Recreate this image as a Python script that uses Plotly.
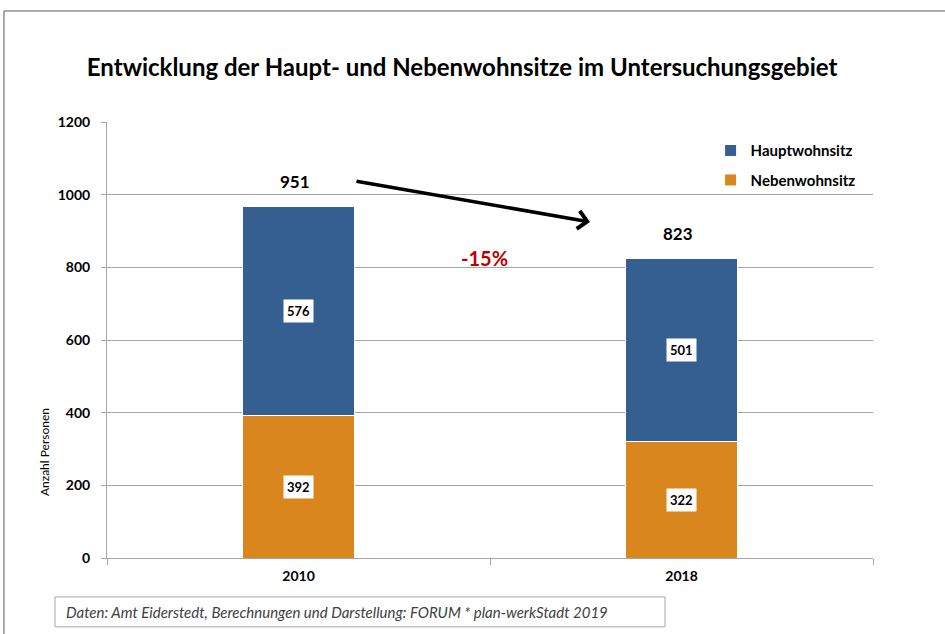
import plotly.graph_objects as go

years = ["2010", "2018"]
neben = [392, 322]
haupt = [576, 501]
totals = [951, 823]
change_label = "-15%"
title = "Entwicklung der Haupt- und Nebenwohnsitze im Untersuchungsgebiet"
source = "Daten: Amt Eiderstedt, Berechnungen und Darstellung: FORUM * plan-werkStadt 2019"

BLUE = "#365F91"
ORANGE = "#D9861E"
FONT = "Lato, 'Open Sans', sans-serif"

fig = go.Figure()
fig.add_trace(go.Bar(x=years, y=neben, name="<b>Nebenwohnsitz</b>", legendgroup="n", legendrank=2,
                     marker=dict(color=ORANGE, line=dict(color="white", width=1)), width=0.29,
                     hoverinfo="skip"))
fig.add_trace(go.Bar(x=years, y=haupt, name="<b>Hauptwohnsitz</b>", legendgroup="h", legendrank=1,
                     marker=dict(color=BLUE, line=dict(color="white", width=1)), width=0.29,
                     hoverinfo="skip"))

ann = []
for i, yr in enumerate(years):
    # category axis: annotation x uses the category's serial number
    ann.append(dict(x=i, y=neben[i] / 2, text=f"<b>{neben[i]}</b>", showarrow=False, bgcolor="white",
                    borderpad=3, font=dict(size=13, color="black", family=FONT)))
    ann.append(dict(x=i, y=neben[i] + haupt[i] / 2, text=f"<b>{haupt[i]}</b>", showarrow=False, bgcolor="white",
                    borderpad=3, font=dict(size=13, color="black", family=FONT)))
    ann.append(dict(x=i, y=neben[i] + haupt[i], text=f"<b>{totals[i]}</b>", showarrow=False, yshift=25, xshift=-4,
                    font=dict(size=17, color="black", family=FONT)))

# arrow (head position in paper/data, tail offset in pixels)
ann.append(dict(xref="paper", yref="y", x=0.6305, y=925, ax=-235, ay=-41, axref="pixel", ayref="pixel",
                text="", showarrow=True, arrowhead=4, arrowsize=1.0, arrowwidth=3.5, arrowcolor="black"))
ann.append(dict(xref="paper", yref="y", x=0.493, y=826, text=f"<b>{change_label}</b>", showarrow=False,
                font=dict(size=20, color="#C00000", family=FONT)))
ann.append(dict(xref="paper", yref="paper", x=-0.0822, y=0.243, xanchor="center", yanchor="middle",
                text="Anzahl Personen", textangle=-90,
                showarrow=False, font=dict(size=12, color="black", family=FONT)))
ann.append(dict(xref="paper", yref="paper", x=-0.056, y=-0.124, xanchor="left", yanchor="middle",
                text=f"<i>{source}</i>", showarrow=False, font=dict(size=15, color="#404040", family=FONT)))

shapes = [
    dict(type="rect", xref="paper", yref="paper", x0=-0.1345, x1=1.5, y0=1.2546, y1=-1.0,
         line=dict(color="#595959", width=1), fillcolor="rgba(0,0,0,0)", layer="below"),
    dict(type="rect", xref="paper", yref="paper", x0=-0.0679, x1=0.7285, y0=-0.0894, y1=-0.158,
         line=dict(color="#A6A6A6", width=1), fillcolor="white"),
]

fig.update_layout(
    width=945, height=634,
    margin=dict(l=107, r=72, t=122, b=76, autoexpand=False),
    paper_bgcolor="white", plot_bgcolor="white",
    barmode="stack",
    title=dict(text=f"<b>{title}</b>", x=0.489, xanchor="center", y=0.894, yanchor="middle",
               font=dict(size=24, color="black", family=FONT)),
    font=dict(family=FONT, color="black"),
    showlegend=True,
    legend=dict(x=0.788, y=0.972, xanchor="left", yanchor="top", traceorder="grouped",
                font=dict(size=15, color="black", family=FONT), bgcolor="rgba(0,0,0,0)",
                itemwidth=30, tracegroupgap=7),
    annotations=ann,
    shapes=shapes,
)
fig.update_yaxes(range=[0, 1200], dtick=200, showgrid=True, gridcolor="#A6A6A6", gridwidth=1,
                 showline=True, linecolor="#A6A6A6", ticks="outside", ticklen=5, tickcolor="#A6A6A6",
                 tickfont=dict(size=14, color="black", family=FONT), tickprefix="<b>", ticksuffix="</b>",
                 ticklabelstandoff=8, zeroline=False, automargin=False)
fig.update_xaxes(type="category", range=[-0.5, 1.5], showline=True, linecolor="#A6A6A6", ticks="outside",
                 ticklen=6, tickcolor="#A6A6A6", tickson="boundaries",
                 tickfont=dict(size=14, color="black", family=FONT), ticklabelstandoff=5,
                 tickprefix="<b>", ticksuffix="</b>", automargin=False)

fig.write_html("out.html", config={"displayModeBar": False},
               post_script="document.body.style.margin='0';")
